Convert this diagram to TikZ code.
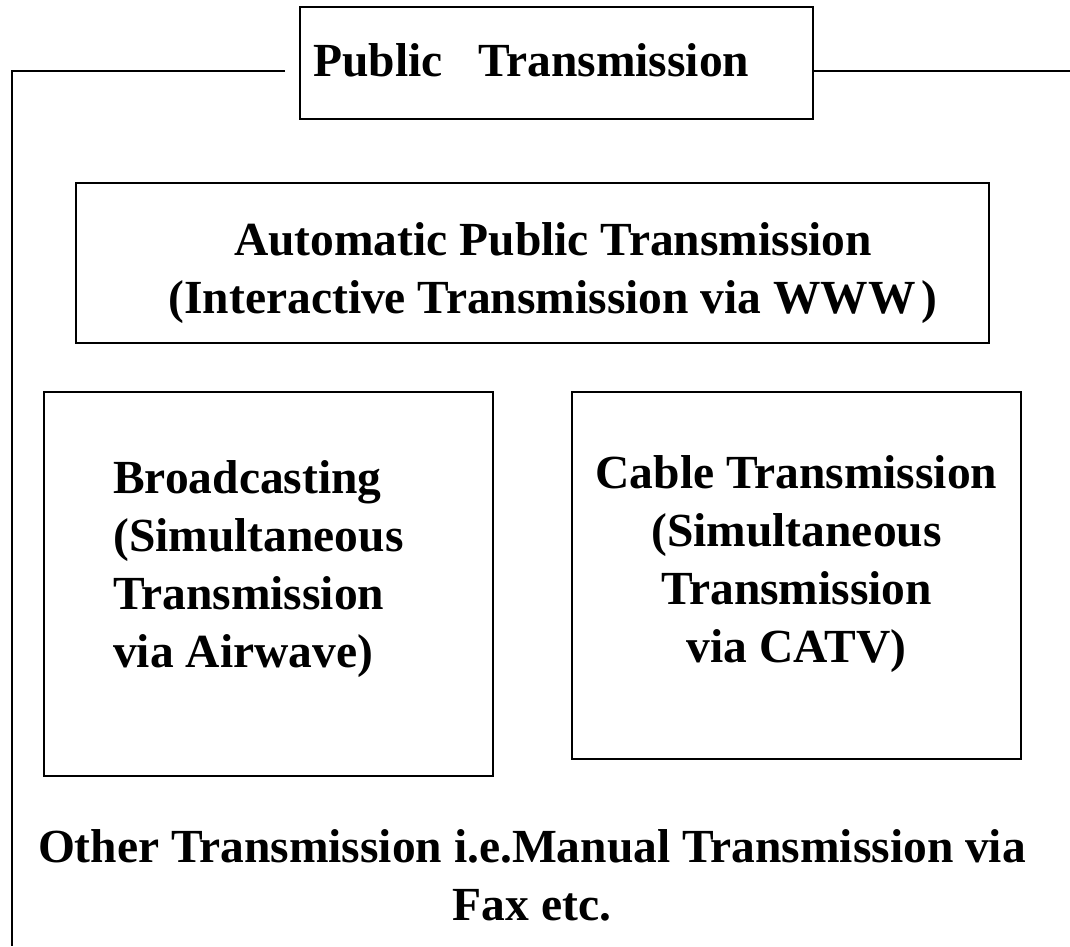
\documentclass[tikz,border=0pt]{standalone}
\usepackage{fontspec}
\setmainfont{Liberation Serif}
\usepackage{tikz}
\usetikzlibrary{positioning}
\tikzstyle{plainbox}=[
      rectangle,
      draw = black,
      line width = 2pt,
      inner sep = 0pt
      ]
\tikzstyle{boxtext}=[
      inner sep = 0pt,
      font = \fontsize{47.5}{57.8}\selectfont\bfseries
      ]

\begin{document}
\begin{tikzpicture}[x=1pt,y=-1pt]
\useasboundingbox (0,0) rectangle (1070,946);

% outer frame
\node [plainbox, minimum width=513pt, minimum height=112pt] (title) at (556.5,63) {};
\coordinate (frameleft) at (285,71);
\coordinate (framecorner) at (12,71);
\coordinate (framebottom) at (12,946);
\coordinate (frameright) at (1070,71);
\draw [line width=2pt] (frameleft) -- (framecorner) -- (framebottom);
\draw [line width=2pt] (title.east |- frameright) -- (frameright);
\node [boxtext, anchor=base west] (titletext) at (313,76) {Public~~~Transmission};

% boxes
\node [plainbox, minimum width=913pt, minimum height=160pt] (auto) at (532.5,263) {};
\node [plainbox, minimum width=449pt, minimum height=384pt] (broad) at (268.5,584) {};
\node [plainbox, minimum width=449pt, minimum height=367pt] (cable) at (796.5,575.5) {};

\node [boxtext, align=center, anchor=base] (autotext) at (553,313)
{Automatic Public Transmission\\(Interactive Transmission via WWW\hspace{0.12em})};
\node [boxtext, align=left, anchor=base west] (broadtext) at (113,667)
{Broadcasting\\(Simultaneous\\Transmission\\via Airwave)};
\node [boxtext, align=center, anchor=base] (cabletext) at (796.5,662)
{Cable Transmission\\(Simultaneous\\Transmission\\via CATV)};
\node [boxtext, align=center, anchor=base] (othertext) at (532,920)
{Other Transmission i.e.Manual Transmission via\\Fax etc.};
\end{tikzpicture}
\end{document}
